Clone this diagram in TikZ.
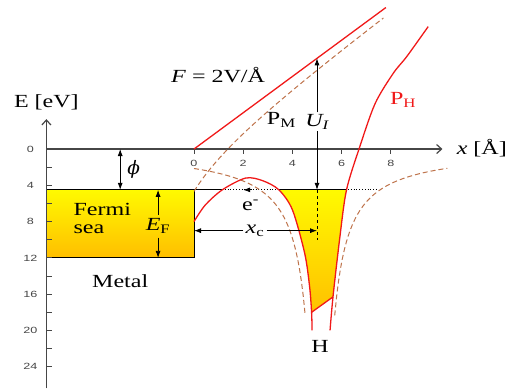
\documentclass[tikz,border=0pt]{standalone}
\usepackage{fontspec}
\setmainfont{Liberation Serif}[FakeStretch=1.3]
\newfontfamily\tickfont{Liberation Sans}[FakeStretch=1.4]
\newfontfamily\greekfont{DejaVu Serif}
\usetikzlibrary{arrows.meta}

\definecolor{potred}{RGB}{240,25,25}
\definecolor{freebrown}{RGB}{190,115,75}
\definecolor{axisgray}{RGB}{70,70,70}
\definecolor{seatop}{RGB}{255,250,0}
\definecolor{seabot}{RGB}{255,190,0}

\begin{document}
\begin{tikzpicture}[x=24.6pt,y=-9.07pt,
  font=\fontsize{18.5}{18}\selectfont,
  axis/.style={axisgray,line width=1.2pt,-{Straight Barb[length=5pt,width=9pt]}},
  tick/.style={axisgray,line width=0.8pt},
  ticklabel/.style={axisgray,inner sep=1pt,font=\tickfont\fontsize{9}{10}\selectfont},
  pot/.style={potred,line width=1.3pt},
  free/.style={freebrown,line width=1pt,dash pattern=on 5pt off 3pt},
  dim/.style={line width=0.8pt,-{Latex[length=7pt,width=5pt]}},
  dimboth/.style={line width=0.8pt,{Latex[length=7pt,width=5pt]}-{Latex[length=7pt,width=5pt]}},
  gap/.style={inner sep=2pt}]
\useasboundingbox (-7.886,-16.43) rectangle (12.764,26.35);

% Fermi sea of the metal
\shadedraw[top color=seatop,bottom color=seabot,line width=0.8pt] (-6,4.5) rectangle (0,12);

% filled part of the H well
\begin{scope}
  \clip plot[smooth] coordinates {(0,8) (0.45,6.2) (1.15,4.5) (2.1,3.2) (2.8,3.5) (3.45,4.5) (4.0,6.7) (4.5,11.5) (4.7,15.2) (4.78,18) (4.8,20)}
    -- (4.8,27) -- (12,27) -- (12,-16) -- (0,-16) -- cycle;
  \clip plot[smooth] coordinates {(5.53,20) (5.65,16.3) (5.93,9.7) (6.2,4.5) (6.72,-0.1) (7.36,-5) (8.1,-8.35) (8.65,-10.2) (9.52,-13.5)}
    -- (9.52,-16) -- (-1,-16) -- (-1,27) -- (5.53,27) -- cycle;
  \shade[top color=seatop,bottom color=seabot] (3,4.5) -- (7,4.5) -- (6,15.62) -- (4.5,18.55) -- cycle;
  \draw[line width=0.8pt] (0,4.5) -- (8,4.5);
\end{scope}
\draw[dotted,line width=0.8pt] (0,4.5) -- (7.44,4.5);

% axes
\draw[axis] (-6,26.4) -- (-6,-3.3);
\draw[axis] (-6,0) -- (10.1,0);
\foreach \e in {2,4,...,24}
  \draw[tick] (-6,\e) -- (-5.76,\e);
\foreach \e in {0,4,...,24}
  \node[ticklabel] (e\e) at (-6.65,\e) {\e};
\foreach \x in {0,2,...,8} {
  \draw[tick] (\x,0) -- (\x,0.55);
  \node[ticklabel] (x\x) at (\x,1.55) {\x};
}
\node (Eaxis) at (-6,-5.2) {E [eV]};
\node (xaxis) at (11.7,-0.1) {\textit{x} [Å]};

% free potentials (dashed)
\draw[free] plot[domain=0:7.7,samples=60] (\x,{-2*\x+9.2/(\x+1.97)});
\draw[free] plot[domain=0:4.52,samples=60] (\x,{11/(5.12-\x)});
\draw[free] plot[domain=5.72:10.3,samples=60] (\x,{11/(\x-5.12)});

% potentials in the field
\draw[pot] (0,0) -- (7.8,-15.6);
\draw[pot] plot[smooth] coordinates {(0,8) (0.45,6.2) (1.15,4.5) (2.1,3.2) (2.8,3.5) (3.45,4.5) (4.0,6.7) (4.5,11.5) (4.7,15.2) (4.78,18) (4.8,20)};
\draw[pot] plot[smooth] coordinates {(5.53,20) (5.65,16.3) (5.93,9.7) (6.2,4.5) (6.72,-0.1) (7.36,-5) (8.1,-8.35) (8.65,-10.2) (9.52,-13.5)};
\draw[pot] (4.78,18) -- (5.65,16.3);

% work function
\coordinate (phiT) at (-3,0);
\coordinate (phiB) at (-3,4.5);
\draw[dimboth] (phiT) -- (phiB);
\node (phi) at (-2.45,2.2) {\greekfont\itshape ϕ};

% Fermi energy
\node[gap,inner ysep=4pt] (EF) at (-1.46,8.5) {\textit{E}\textsubscript{F}};
\coordinate (EFt) at (-1.46,4.5);
\coordinate (EFb) at (-1.46,12);
\draw[dim] (EF) -- (EFt);
\draw[dim] (EF) -- (EFb);

% ionisation energy
\node[gap] (UI) at (5,-3) {\textit{U\textsubscript{I}}};
\coordinate (UIt) at (5,-10);
\coordinate (UIb) at (5,4.5);
\coordinate (UIend) at (5,10);
\draw[dim] (UI) -- (UIt);
\draw[dim] (UI) -- (UIb);
\draw[dashed,line width=0.8pt] (UIb) -- (UIend);

% critical distance
\node[gap] (XC) at (2.48,9) {\textit{x}\textsubscript{c}};
\coordinate (XCl) at (0,9);
\coordinate (XCr) at (5,9);
\draw[dim] (XC) -- (XCl);
\draw[dim] (XC) -- (XCr);

% tunnelling electron
\coordinate (eA) at (2.35,4.5);
\coordinate (eB) at (2.0,4.5);
\draw[dim] (eA) -- (eB);
\node (elec) at (2.3,6.2) {e\textsuperscript{-}};

% labels
\node[align=left,anchor=west] (sea) at (-5.04,7.7) {Fermi\\sea};
\node (metal) at (-3,14.6) {Metal};
\node (field) at (0.98,-8.2) {\textit{F} = 2V/Å};
\node (PM) at (3.55,-3.2) {P\textsubscript{M}};
\node[potred] (PH) at (8.5,-5.4) {P\textsubscript{H}};
\node (H) at (5.12,21.8) {H};
\end{tikzpicture}
\end{document}
